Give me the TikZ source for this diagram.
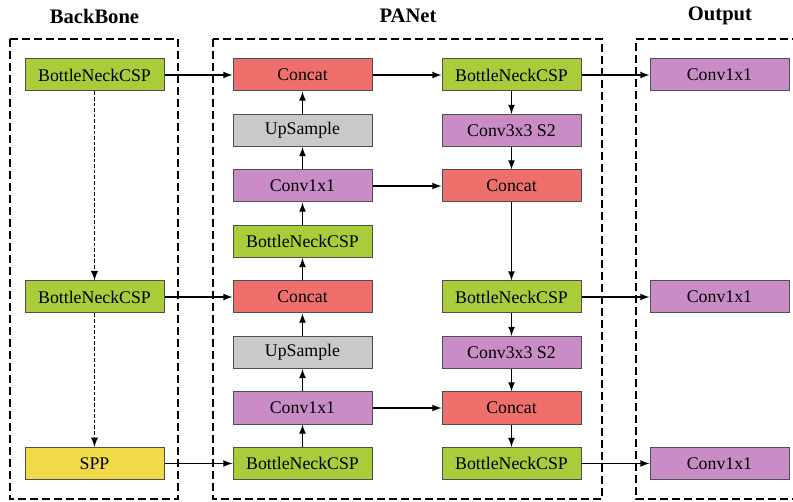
\documentclass[tikz,border=0pt]{standalone}
\usepackage{xcolor}
\usepackage{fontspec}
\setmainfont{Liberation Serif}
\usepackage{tikz}
\usetikzlibrary{shapes}
\usetikzlibrary{arrows}
\usetikzlibrary{positioning}
\usetikzlibrary{calc}
\definecolor{cspgreen}{HTML}{AACB3A}
\definecolor{catred}{HTML}{EF6F6D}
\definecolor{upgrey}{HTML}{C9C9C9}
\definecolor{convpurple}{HTML}{C98CC6}
\definecolor{sppyellow}{HTML}{F0DA48}
\definecolor{blkline}{HTML}{4F4F4F}

\begin{document}
\begin{tikzpicture}[
  x=0.5pt, y=-0.5pt,
  dep/.style ={
    -latex,line width=0.6pt
  },
  bbdep/.style ={
    -latex,line width=0.65pt,
    dash pattern=on 1.8pt off 1pt
  },
  blk/.style={
    rectangle,
    draw=blkline,
    line width=0.5pt,
    fill=#1,
    minimum width=69.5pt,
    minimum height=16pt,
    inner sep=0pt,
    font=\fontsize{8.9}{10}\selectfont},
  frame/.style={
    draw=black,
    line width=1pt,
    dash pattern=on 4pt off 2pt},
  title/.style={
    font=\fontsize{10.3}{12}\selectfont\bfseries},
]

  \useasboundingbox (0,0) rectangle (793,502);

  \def\rowbase{75}%
  \def\rowstep{55.5}%
  \def\colbb{94.5}%
  \def\colpl{302.5}%
  \def\colpr{511.5}%
  \def\colout{719.5}%

    % Frames and titles
  \draw[frame] (10,39) rectangle (178,499);
  \draw[frame] (213,39) rectangle (602,499);
  \draw[frame] (800,39) -- (636,39) -- (636,499) -- (800,499);

  \node[title] (t_bb) at (\colbb, 16) {BackBone};
  \node[title] (t_pan) at (408, 16) {PANet};
  \node[title] (t_out) at (720, 16) {Output};

    % Backbone
  \foreach \row/\lbl/\clr in {1/BottleNeckCSP/cspgreen,
                              5/BottleNeckCSP/cspgreen,
                              8/SPP/sppyellow} {
    \node[blk={\clr}] (bb_\row) at (\colbb, {\rowbase+\rowstep*(\row-1)}) {\lbl};
  }
  \draw[bbdep] (bb_1.south) -- (bb_5.north);
  \draw[bbdep] (bb_5.south) -- (bb_8.north);

    % PANet, top-down path
  \foreach \lbl/\clr [count=\row] in {Concat/catred, UpSample/upgrey,
      Conv1x1/convpurple, BottleNeckCSP/cspgreen, Concat/catred,
      UpSample/upgrey, Conv1x1/convpurple, BottleNeckCSP/cspgreen} {
    \node[blk={\clr}] (pl_\row) at (\colpl, {\rowbase+\rowstep*(\row-1)}) {\lbl};
  }
  \foreach \start [count=\stop from 1] in {2,...,8} {
    \draw[dep] (pl_\start.north) -- (pl_\stop.south);
  }

    % PANet, bottom-up path
  \foreach \row/\lbl/\clr in {1/BottleNeckCSP/cspgreen, 2/Conv3x3 S2/convpurple,
      3/Concat/catred, 5/BottleNeckCSP/cspgreen, 6/Conv3x3 S2/convpurple,
      7/Concat/catred, 8/BottleNeckCSP/cspgreen} {
    \node[blk={\clr}] (pr_\row) at (\colpr, {\rowbase+\rowstep*(\row-1)}) {\lbl};
  }
  \foreach \start/\stop in {1/2, 2/3, 3/5, 5/6, 6/7, 7/8} {
    \draw[dep] (pr_\start.south) -- (pr_\stop.north);
  }

    % Output heads
  \foreach \row in {1,5,8} {
    \node[blk={convpurple}] (out_\row) at (\colout, {\rowbase+\rowstep*(\row-1)}) {Conv1x1};
  }

    % Lateral connections
  \foreach \row in {1,5,8} {
    \draw[dep] (bb_\row.east) -- (pl_\row.west);
  }
  \foreach \row in {1,3,7} {
    \draw[dep] (pl_\row.east) -- (pr_\row.west);
  }
  \draw[dep] (pr_1.east) -- (out_1.west);
  \draw[dep] (pr_5.east) -- (out_5.west);
  \draw[dep] (pr_8.east) -- (out_8.west);

\end{tikzpicture}
\end{document}
